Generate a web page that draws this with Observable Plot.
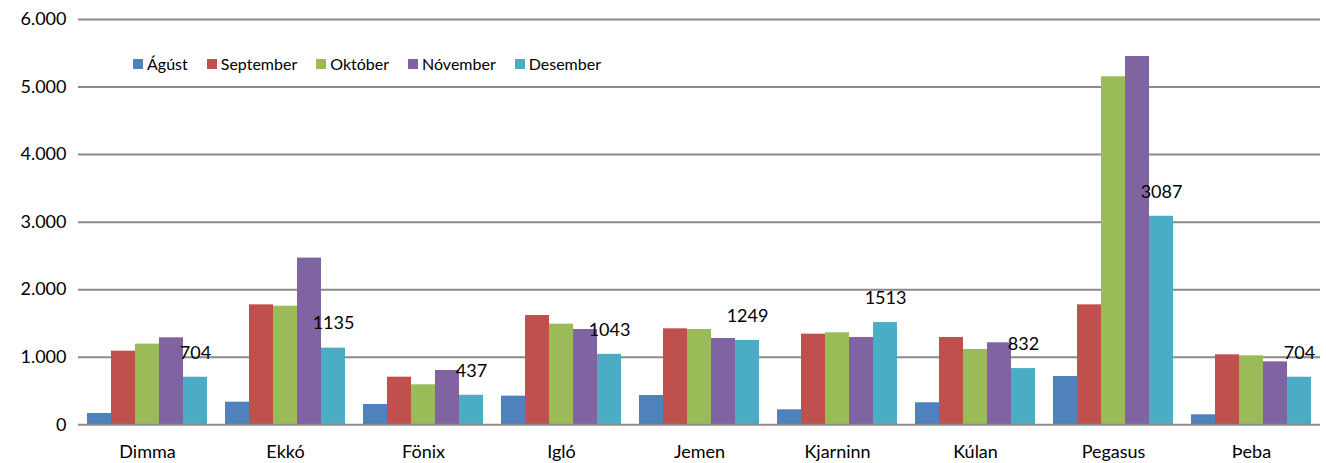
<!DOCTYPE html>
<html>
<head>
<meta charset="utf-8">
<script src="https://cdn.jsdelivr.net/npm/d3@7"></script>
<script src="https://cdn.jsdelivr.net/npm/@observablehq/plot@0.6"></script>
<style>
  body { margin: 0; background: #fff; font-family: Lato, "Open Sans", sans-serif; }
  #wrap { position: relative; width: 1326px; height: 463px; }
  #legend { position: absolute; left: 133px; top: 54px; display: flex; gap: 19px; font-size: 16px; line-height: 20px; color: #000; }
  #legend .item { display: flex; align-items: center; }
  #legend .sw { width: 10px; height: 10px; margin-right: 4px; display: inline-block; }
</style>
</head>
<body>
<div id="wrap"><div id="legend"></div></div>
<script>
const categories = ["Dimma", "Ekkó", "Fönix", "Igló", "Jemen", "Kjarninn", "Kúlan", "Pegasus", "Þeba"];
const series = ["Ágúst", "September", "Október", "Nóvember", "Desember"];
const colors = ["#4F81BD", "#C0504D", "#9BBB59", "#8064A2", "#4BACC6"];
const agust     = [168, 335, 301, 424, 434, 222, 326, 715, 148];
const september = [1090, 1776, 705, 1618, 1421, 1342, 1293, 1776, 1036];
const oktober   = [1194, 1756, 592, 1490, 1411, 1362, 1115, 5152, 1021];
const november  = [1288, 2468, 804, 1411, 1278, 1293, 1214, 5452, 932];
const desember  = [704, 1135, 437, 1043, 1249, 1513, 832, 3087, 704];
const yTicks = [0, 1000, 2000, 3000, 4000, 5000, 6000];

const seriesValues = [agust, september, oktober, november, desember];
const data = [];
categories.forEach((c, i) => {
  series.forEach((s, j) => data.push({category: c, series: s, value: seriesValues[j][i]}));
});
const labelData = data.filter(d => d.series === "Desember");

const fmt = d3.formatLocale({decimal: ",", thousands: ".", grouping: [3], currency: ["", ""]}).format(",");

const chart = Plot.plot({
  width: 1326,
  height: 463,
  marginLeft: 77,
  marginRight: 5,
  marginTop: 19,
  marginBottom: 38.7,
  style: {fontFamily: "Lato, 'Open Sans', sans-serif", fontSize: "18px", color: "#000", background: "#fff"},
  fx: {domain: categories, paddingInner: 0.13, paddingOuter: 0.065, label: null, axis: null},
  x: {domain: series, padding: 0, axis: null},
  y: {domain: [0, 6000], axis: null},
  color: {domain: series, range: colors},
  marks: [
    Plot.ruleY(yTicks.filter(d => d > 0), {stroke: "#8a8a8a", strokeWidth: 2, insetLeft: -9, insetRight: -9}),
    Plot.barY(data, {fx: "category", x: "series", y: "value", fill: "series"}),
    Plot.ruleY([0], {stroke: "#8a8a8a", strokeWidth: 2, insetLeft: -9, insetRight: -9}),
    Plot.text(labelData, {fx: "category", x: "series", y: "value", text: d => String(d.value), dy: -24.5, fontSize: 18, fill: "#000"}),
    Plot.axisY({ticks: yTicks, tickSize: 0, tickPadding: 21, tickFormat: fmt, fontSize: 18, label: null}),
    Plot.axisFx({anchor: "bottom", tickSize: 0, tickPadding: 20, fontSize: 18, label: null})
  ]
});
document.getElementById("wrap").insertBefore(chart, document.getElementById("legend"));

const legend = document.getElementById("legend");
series.forEach((s, j) => {
  const item = document.createElement("span");
  item.className = "item";
  const sw = document.createElement("span");
  sw.className = "sw";
  sw.style.background = colors[j];
  item.appendChild(sw);
  item.appendChild(document.createTextNode(s));
  legend.appendChild(item);
});
</script>
</body>
</html>
